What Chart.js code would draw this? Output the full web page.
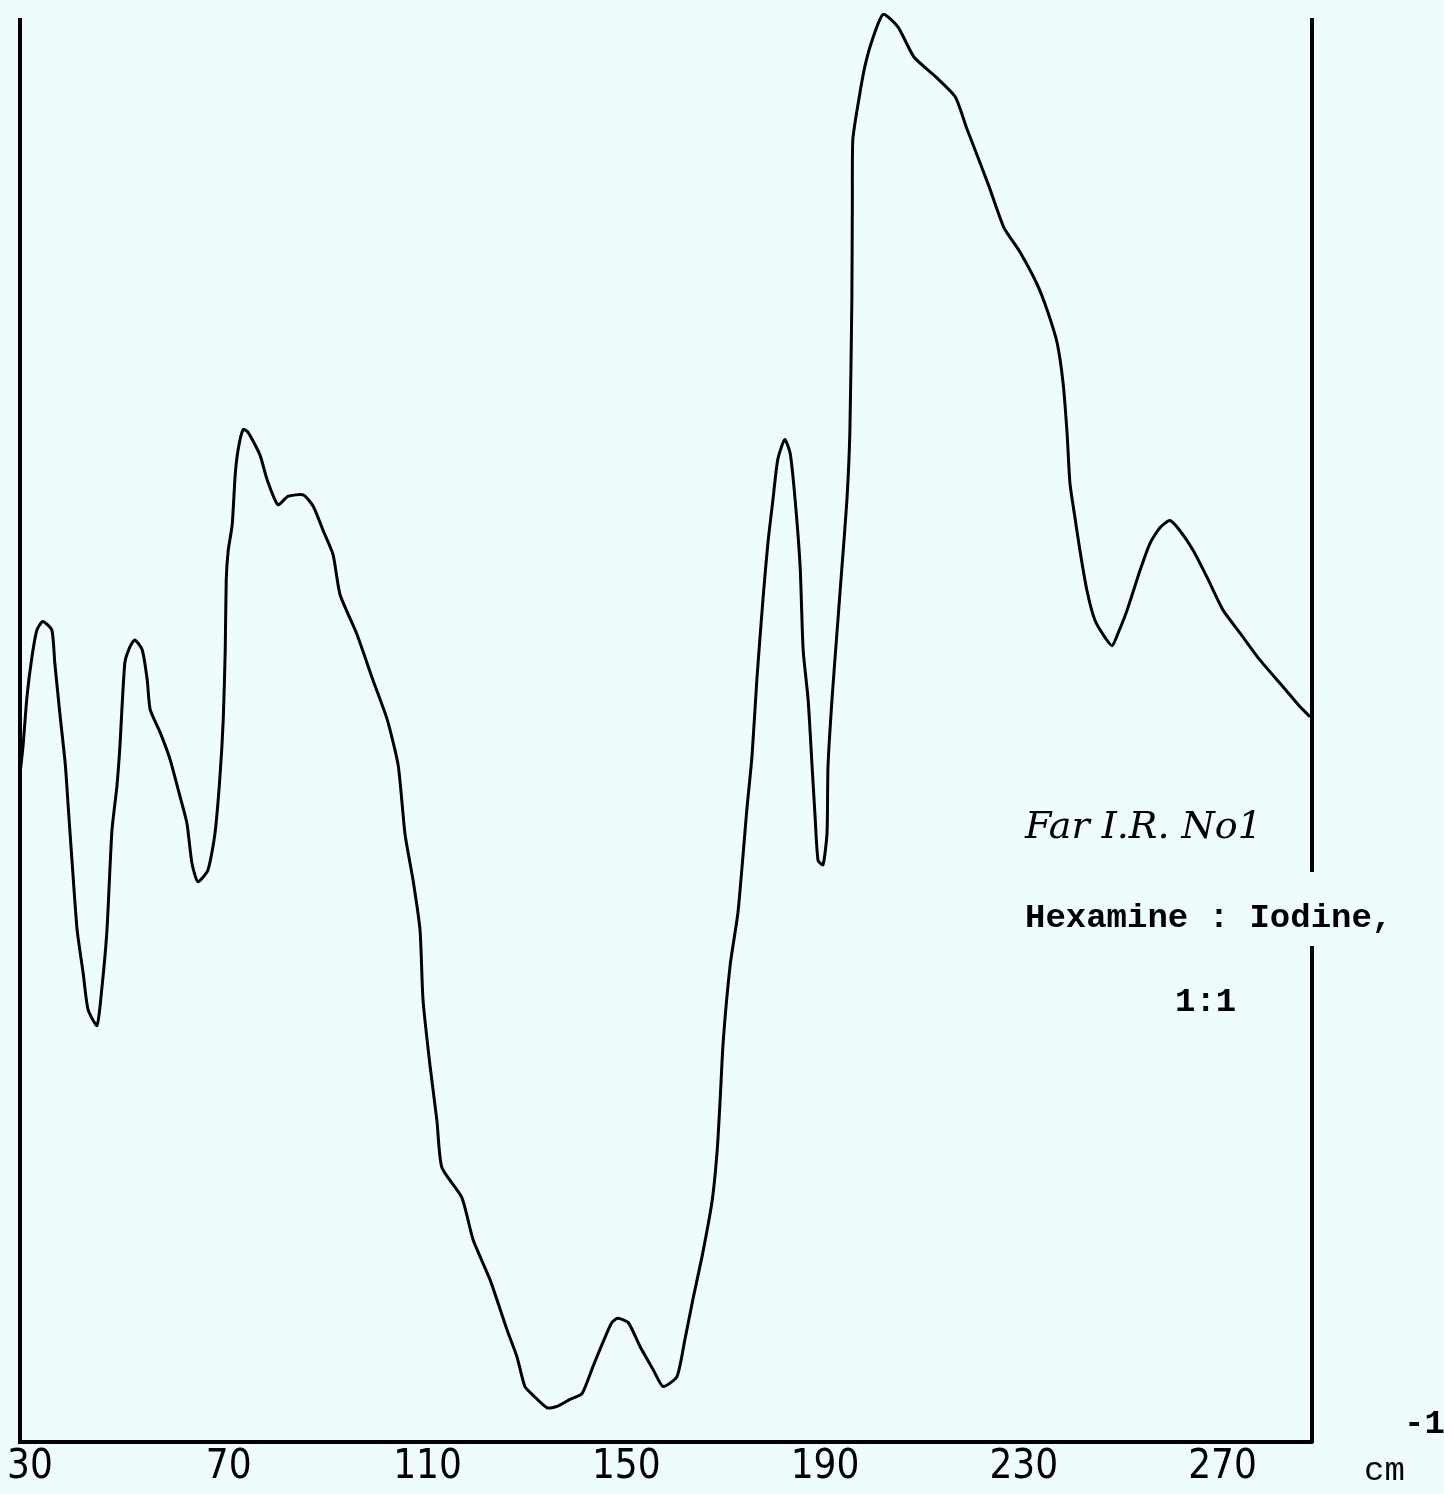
<!DOCTYPE html>
<html>
<head>
<meta charset="utf-8">
<script src="https://cdn.jsdelivr.net/npm/chart.js@4.4.0/dist/chart.umd.min.js"></script>
<style>
  html, body { margin: 0; padding: 0; background: #effcfd; }
  #wrap { width: 1444px; height: 1494px; }
</style>
</head>
<body>
<div id="wrap"><canvas id="irChart" width="1444" height="1494"></canvas></div>
<script>
// wavenumber (cm-1) and recorder trace height (arbitrary %)
const wavenumbers = [
  28.0, 28.6, 29.4, 30.4, 31.4, 32.6, 34.4, 35.0, 36.0, 37.1, 37.7, 38.5, 39.5, 40.7, 41.7, 43.5,
  44.5, 45.5, 46.5, 47.5, 48.1, 49.1, 50.1, 51.1, 52.6, 53.6, 54.2, 56.2, 58.2, 60.2, 61.6, 62.6,
  63.8, 65.8, 67.2, 68.2, 68.9, 69.3, 69.5, 69.9, 70.7, 71.3, 71.9, 72.9, 73.9, 76.3, 77.7, 79.9,
  81.9, 85.0, 87.0, 89.0, 91.0, 92.4, 95.8, 99.0, 101.9, 104.1, 105.5, 107.1, 108.5, 109.1, 110.5,
  111.9, 112.9, 116.9, 119.2, 122.6, 126.0, 128.0, 129.6, 131.2, 134.1, 136.1, 138.7, 141.1, 143.3,
  145.3, 147.1, 148.3, 150.4, 152.8, 155.4, 157.4, 160.2, 161.8, 163.4, 165.4, 167.3, 168.3, 168.9,
  169.5, 170.9, 172.5, 174.3, 175.3, 176.3, 177.5, 178.5, 179.5, 180.5, 181.9, 183.0, 184.0, 185.0,
  185.6, 186.6, 187.4, 188.0, 188.6, 189.6, 190.4, 190.6, 191.4, 192.4, 193.4, 194.4, 195.0, 195.4,
  195.5, 195.6, 196.8, 198.0, 199.5, 201.7, 204.7, 207.9, 212.3, 216.2, 218.4, 219.6, 223.0, 226.0,
  229.2, 232.7, 234.7, 236.7, 237.9, 238.7, 239.3, 240.3, 241.3, 242.7, 244.3, 246.3, 247.8, 249.0,
  250.8, 253.4, 255.4, 257.4, 259.4, 261.4, 264.1, 266.9, 270.1, 273.5, 277.5, 282.2, 285.6, 287.6
];
const transmission = [
  47.0, 48.9, 52.4, 55.2, 57.1, 57.7, 57.1, 54.8, 51.3, 47.7, 44.7, 40.7, 36.0, 33.0, 30.4, 29.3,
  32.0, 36.0, 43.0, 46.1, 48.9, 54.8, 55.9, 56.4, 55.7, 53.6, 51.5, 49.9, 48.0, 45.4, 43.5, 40.7,
  39.4, 40.2, 42.7, 46.6, 50.8, 55.7, 60.6, 62.7, 64.5, 68.0, 69.8, 71.2, 71.0, 69.4, 67.7, 65.9,
  66.5, 66.6, 65.8, 64.1, 62.4, 59.6, 56.8, 53.6, 50.8, 47.6, 42.7, 39.5, 36.0, 31.1, 26.5,
  22.6, 19.3, 17.2, 14.2, 11.4, 7.9, 6.0, 3.9, 3.3, 2.4, 2.5, 3.0, 3.4, 5.3,
  7.0, 8.4, 8.7, 8.4, 6.7, 5.1, 3.9, 4.6, 7.2, 10.0, 13.3, 17.0, 20.5, 24.1,
  28.1, 33.5, 37.3, 44.6, 48.2, 53.7, 59.2, 63.2, 66.2, 69.1, 70.5, 69.5, 66.2, 61.5,
  55.7, 52.2, 47.5, 44.0, 40.9, 40.6, 42.8, 47.5, 52.2, 56.9, 61.5, 66.2, 71.0, 80.3,
  87.3, 91.6, 94.4, 96.7, 98.6, 100.4, 99.5, 97.4, 96.0, 94.6, 92.5, 91.4, 88.3, 85.4,
  83.7, 81.4, 79.6, 77.3, 74.5, 71.0, 67.4, 65.0, 62.7, 59.9, 57.8, 56.6, 56.0, 56.9,
  58.5, 61.3, 63.2, 64.3, 64.8, 64.1, 62.7, 60.8, 58.5, 56.9, 55.0, 53.1, 51.7, 51.0
];
const tickValues = [30, 70, 110, 150, 190, 230, 270];
const noteLines = ["Far I.R. No1", "Hexamine : Iodine,", "1:1"];
const unitText = "cm";
const unitPower = "-1";

const paper = "#effcfd";
const ink = "#000000";
const tickFont = "'Liberation Sans Narrow', 'DejaVu Sans Condensed', 'Open Sans', sans-serif";
const typeFont = "'Liberation Mono', 'DejaVu Sans Mono', monospace";

const points = wavenumbers.map((w, i) => ({ x: w, y: transmission[i] }));

// typed / handwritten notes written on the chart paper
const notesPlugin = {
  id: "notes",
  afterDraw(chart) {
    const { ctx, chartArea } = chart;
    const r = chartArea.right;
    const b = chartArea.bottom;
    ctx.save();
    ctx.textBaseline = "alphabetic";
    ctx.textAlign = "left";
    ctx.fillStyle = ink;
    ctx.font = "italic 38px 'DejaVu Serif', serif";
    ctx.fillText(noteLines[0], 1025, 838);

    // the typed line breaks the right frame line
    ctx.fillStyle = paper;
    ctx.fillRect(r - 8, 872, 16, 74);

    ctx.fillStyle = ink;
    ctx.font = "bold 34px " + typeFont;
    ctx.fillText(noteLines[1], 1025, 927);
    ctx.fillText(noteLines[2], 1175, 1011);

    ctx.font = "34px " + typeFont;
    ctx.fillText(unitText, r + 52, b + 38);
    ctx.font = "bold 34px " + typeFont;
    ctx.fillText(unitPower, r + 92, b - 9);
    ctx.restore();
  }
};

const frame = { display: true, color: ink, width: 4 };

new Chart(document.getElementById("irChart"), {
  type: "line",
  data: {
    datasets: [{
      data: points,
      borderColor: ink,
      borderWidth: 3,
      pointRadius: 0,
      tension: 0.2,
      fill: false,
      clip: false
    }]
  },
  options: {
    responsive: false,
    animation: false,
    events: [],
    layout: { padding: { left: 20, right: 132, top: 20, bottom: 0 } },
    plugins: { legend: { display: false }, tooltip: { enabled: false } },
    scales: {
      x: {
        type: "linear",
        min: 28,
        max: 288,
        grid: { display: false, drawTicks: false },
        border: frame,
        afterBuildTicks: (scale) => { scale.ticks = tickValues.map(v => ({ value: v })); },
        afterFit: (scale) => { scale.paddingLeft = 0; scale.paddingRight = 0; },
        ticks: {
          color: ink,
          padding: 6,
          autoSkip: false,
          maxRotation: 0,
          font: { family: tickFont, size: 40, lineHeight: 1 }
        }
      },
      y: {
        min: 0,
        max: 100,
        grid: { display: false, drawTicks: false },
        border: frame,
        ticks: { display: false }
      },
      yR: {
        axis: "y",
        position: "right",
        min: 0,
        max: 100,
        grid: { display: false, drawTicks: false },
        border: frame,
        ticks: { display: false }
      }
    }
  },
  plugins: [notesPlugin]
});
</script>
</body>
</html>
